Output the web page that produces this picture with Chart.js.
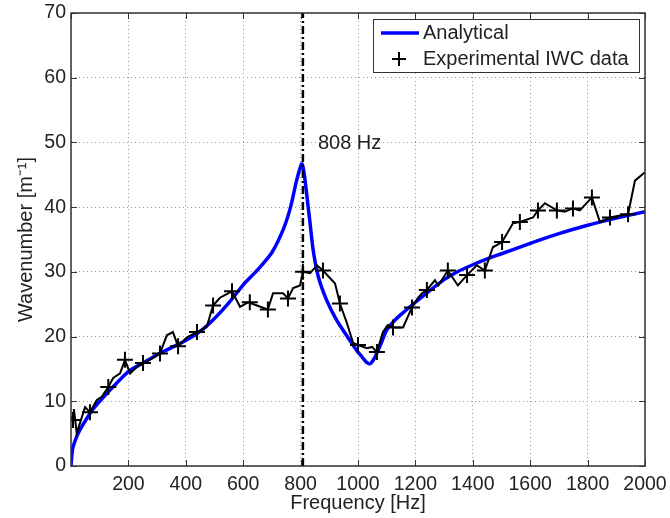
<!DOCTYPE html>
<html>
<head>
<meta charset="utf-8">
<script src="https://cdn.jsdelivr.net/npm/chart.js@4.4.1/dist/chart.umd.min.js"></script>
<style>
  html, body { margin: 0; padding: 0; background: #fff; }
  #wrap { width: 670px; height: 518px; position: relative; }
</style>
</head>
<body>
<div id="wrap"><canvas id="waveChart"></canvas></div>
<script>
// Analytical curve (frequency in Hz, wavenumber in 1/m)
const analyticalFreq = [0, 5, 15, 30, 50, 75, 100, 150, 200, 250, 300, 350, 400, 450, 500, 550, 600, 650, 700, 740, 765, 786, 804, 812, 821, 833, 844, 862, 891, 926, 960, 995, 1015, 1030, 1042, 1055, 1068, 1080, 1100, 1130, 1160, 1200, 1250, 1300, 1350, 1400, 1450, 1500, 1600, 1700, 1800, 1900, 2000];
const analyticalK = [0, 2.5, 4, 5.5, 7, 8.7, 10, 12.4, 14.6, 15.9, 17.2, 18.3, 19.4, 20.8, 22.8, 25.2, 28, 30.3, 33, 36.6, 40, 44.1, 46.7, 45.3, 42.1, 37.5, 33.3, 29.2, 25.6, 22.5, 20.2, 17.9, 16.8, 16.0, 15.8, 16.5, 17.7, 18.9, 21, 22.6, 23.8, 25.3, 27.1, 28.8, 30.1, 31.1, 32, 32.8, 34.4, 35.9, 37.2, 38.3, 39.3];

// Experimental IWC data, full trace
const expLineFreq = [0, 7, 10, 20, 49, 66, 90, 107, 130, 147, 171, 188, 206, 229, 251, 275, 310, 334, 355, 373, 404, 439, 473, 495, 519, 561, 589, 617, 648, 686, 704, 739, 756, 774, 798, 808, 833, 857, 878, 920, 937, 962, 983, 1000, 1031, 1049, 1066, 1087, 1104, 1122, 1157, 1188, 1209, 1223, 1240, 1268, 1280, 1313, 1348, 1380, 1414, 1442, 1470, 1502, 1540, 1564, 1610, 1627, 1651, 1693, 1720, 1749, 1773, 1815, 1843, 1878, 1913, 1941, 1965, 2000];
const expLineK = [7.7, 7.1, 8.8, 5.1, 9.1, 8.3, 10.2, 10.7, 12.2, 13.6, 14.3, 16.4, 14.3, 15.3, 15.9, 16.4, 17.4, 20.2, 20.7, 18.5, 19.9, 20.7, 21.5, 24.8, 26, 27, 24.6, 25.3, 24.8, 24.2, 26.7, 26.7, 25.9, 27.5, 27.9, 30, 29.8, 31, 30.2, 28.2, 25.1, 22, 19, 18.7, 18.2, 18.4, 17.6, 20.7, 21.8, 21.4, 21.4, 24.5, 26, 26.7, 27.2, 28.7, 27.9, 30.2, 27.9, 29.5, 31, 30.2, 33.8, 34.6, 37.5, 37.7, 38.4, 39.5, 40.6, 39.5, 39.3, 39.8, 39.5, 41.5, 37.7, 38.4, 38.7, 38.9, 44.1, 45.4];

// Experimental IWC data, marker positions
const expMarkFreq = [7, 66, 130, 188, 251, 310, 373, 439, 495, 561, 623, 686, 756, 808, 878, 937, 1000, 1066, 1122, 1188, 1240, 1313, 1380, 1442, 1502, 1564, 1627, 1693, 1749, 1815, 1878, 1941];
const expMarkK = [7.1, 8.3, 12.2, 16.4, 15.9, 17.4, 18.5, 20.7, 24.8, 27, 25.3, 24.2, 25.9, 30, 30.2, 25.1, 18.7, 17.6, 21.4, 24.5, 27.2, 30.2, 29.5, 30.2, 34.6, 37.7, 39.5, 39.5, 39.8, 41.5, 38.4, 38.9];

const resonanceFreq = 808;
const resonanceSpan = [0, 70];
const xTicks = [0, 2000, 200];
const yTicks = [0, 70, 10];

const FONT = '"Liberation Sans", Arial, Helvetica, sans-serif';

function pairs(xs, ys) {
    return xs.map((x, i) => ({ x: x, y: ys[i] }));
}

// frame, inward ticks, annotation and boxed legend drawn after the chart
const matlabLook = {
    id: 'matlabLook',
    afterDraw(chart) {
        const ctx = chart.ctx;
        const area = chart.chartArea;
        const xs = chart.scales.x;
        const ys = chart.scales.y;
        ctx.save();

        // inward tick marks
        ctx.strokeStyle = '#333';
        ctx.lineWidth = 1;
        ctx.beginPath();
        for (let v = xTicks[0]; v <= xTicks[1]; v += xTicks[2]) {
            const px = Math.round(xs.getPixelForValue(v)) + 0.5;
            ctx.moveTo(px, area.bottom); ctx.lineTo(px, area.bottom - 6);
            ctx.moveTo(px, area.top); ctx.lineTo(px, area.top + 6);
        }
        for (let v = yTicks[0]; v <= yTicks[1]; v += yTicks[2]) {
            const py = Math.round(ys.getPixelForValue(v)) + 0.5;
            ctx.moveTo(area.left, py); ctx.lineTo(area.left + 6, py);
            ctx.moveTo(area.right, py); ctx.lineTo(area.right - 6, py);
        }
        ctx.stroke();

        // frame
        ctx.strokeStyle = '#333';
        ctx.lineWidth = 1.5;
        ctx.strokeRect(area.left, area.top, area.right - area.left, area.bottom - area.top);

        // resonance label
        ctx.fillStyle = '#222';
        ctx.font = '20px ' + FONT;
        ctx.textBaseline = 'middle';
        ctx.textAlign = 'left';
        ctx.fillText(resonanceFreq + ' Hz', xs.getPixelForValue(resonanceFreq) + 15, ys.getPixelForValue(49.8));

        // legend box
        const bx = 373, by = 19, bw = 266, bh = 53;
        ctx.fillStyle = '#fff';
        ctx.fillRect(bx, by, bw, bh);
        ctx.strokeStyle = '#333';
        ctx.lineWidth = 1;
        ctx.strokeRect(bx + 0.5, by + 0.5, bw, bh);

        const ds = chart.data.datasets;
        ctx.strokeStyle = ds[0].borderColor;
        ctx.lineWidth = 3.5;
        ctx.beginPath();
        ctx.moveTo(381, 33); ctx.lineTo(419, 33);
        ctx.stroke();

        ctx.strokeStyle = '#000';
        ctx.lineWidth = 2;
        ctx.beginPath();
        ctx.moveTo(392, 59); ctx.lineTo(406, 59);
        ctx.moveTo(399, 52); ctx.lineTo(399, 66);
        ctx.stroke();

        ctx.fillStyle = '#222';
        ctx.font = '20px ' + FONT;
        ctx.fillText(ds[0].label, 423, 33);
        ctx.fillText(ds[2].label, 423, 59);
        ctx.restore();
    }
};

const ctx = document.getElementById('waveChart').getContext('2d');
new Chart(ctx, {
    type: 'scatter',
    data: {
        datasets: [
            {
                label: 'Analytical',
                data: pairs(analyticalFreq, analyticalK),
                showLine: true,
                borderColor: '#0000ff',
                borderWidth: 3.5,
                pointRadius: 0,
                tension: 0.25,
                order: 3
            },
            {
                label: 'exp-line',
                data: pairs(expLineFreq, expLineK),
                showLine: true,
                borderColor: '#000',
                borderWidth: 2,
                pointRadius: 0,
                order: 2
            },
            {
                label: 'Experimental IWC data',
                data: pairs(expMarkFreq, expMarkK),
                showLine: false,
                pointStyle: 'cross',
                pointRadius: 8,
                borderColor: '#000',
                borderWidth: 2,
                order: 1
            },
            {
                label: 'resonance',
                data: resonanceSpan.map(v => ({ x: resonanceFreq, y: v })),
                showLine: true,
                borderColor: '#000',
                borderWidth: 2.5,
                borderDash: [8, 3, 2, 3],
                pointRadius: 0,
                order: 0
            }
        ]
    },
    options: {
        animation: false,
        responsive: true,
        maintainAspectRatio: false,
        layout: { padding: { left: 0, top: 13, right: 25, bottom: 0 } },
        plugins: {
            legend: { display: false },
            tooltip: { enabled: false }
        },
        scales: {
            x: {
                type: 'linear',
                min: xTicks[0],
                max: xTicks[1],
                afterFit: s => { s.height = 52; s.paddingRight = 0; s.paddingLeft = 0; },
                ticks: {
                    stepSize: xTicks[2],
                    color: '#222',
                    font: { family: FONT, size: 19.5 },
                    padding: 7,
                    maxRotation: 0,
                    callback: v => v === 0 ? '' : v
                },
                grid: { color: '#999', lineWidth: 1, drawTicks: false },
                border: { display: false, dash: [1, 3] },
                title: {
                    display: true,
                    text: 'Frequency [Hz]',
                    color: '#222',
                    font: { family: FONT, size: 20 },
                    padding: { top: 0, bottom: 3 }
                }
            },
            y: {
                type: 'linear',
                min: yTicks[0],
                max: yTicks[1],
                afterFit: s => { s.width = 71; s.paddingTop = 0; s.paddingBottom = 0; },
                ticks: {
                    stepSize: yTicks[2],
                    color: '#222',
                    font: { family: FONT, size: 19.5 },
                    padding: 5
                },
                grid: { color: '#999', lineWidth: 1, drawTicks: false },
                border: { display: false, dash: [1, 3] },
                title: {
                    display: true,
                    text: 'Wavenumber [m\u207B\u00B9]',
                    color: '#222',
                    font: { family: FONT, size: 20 },
                    padding: { top: 14, bottom: 0 }
                }
            }
        }
    },
    plugins: [matlabLook]
});
</script>
</body>
</html>
